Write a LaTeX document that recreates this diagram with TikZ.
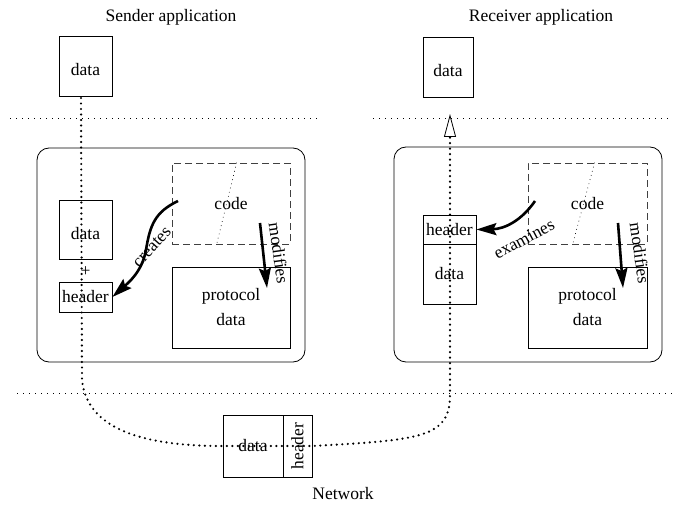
\documentclass[tikz,border=0pt]{standalone}
\usepackage{fontspec}
\setmainfont{Liberation Serif}
\usetikzlibrary{arrows.meta,calc}
\begin{document}
\begin{tikzpicture}[x=1pt,y=-1pt,
  every node/.style={font=\fontsize{17.5}{25}\selectfont, inner sep=0pt},
  box/.style={draw, line width=0.8pt},
  panel/.style={draw, line width=0.8pt, rounded corners=12pt},
  codebox/.style={draw=black!75, line width=0.8pt, dash pattern=on 7pt off 4pt},
  lowtext/.style={text height=20pt},
  flow/.style={line width=2.4pt, line cap=round, dash pattern=on 0pt off 5.5pt},
  divider/.style={line width=0.8pt, dash pattern=on 1pt off 5pt},
  hint/.style={line width=0.6pt, dash pattern=on 0.8pt off 3.5pt},
  action/.style={line width=2.6pt, -{Stealth[length=20pt,width=12pt,inset=3pt]}},
  opentip/.style={line width=0.8pt, -{Triangle[open,length=23pt,width=12pt]}}]
\useasboundingbox (0,0) rectangle (675,505);

% titles
\node (stitle) at (171,17) {Sender application};
\node (rtitle) at (541,17) {Receiver application};
\node (net) at (343,494) {Network};

% application data
\node[box, lowtext, minimum width=53, minimum height=60] (sd) at (85.5,66) {data};
\node[box, lowtext, minimum width=50, minimum height=60] (rd) at (448,67) {data};

% separators between application, protocol and network
\coordinate (l1a) at (10,118);  \coordinate (l1b) at (320,118);
\coordinate (l2a) at (373,118); \coordinate (l2b) at (672,118);
\coordinate (l3a) at (17,393);  \coordinate (l3b) at (673,393);
\draw[divider] (l1a) -- (l1b);
\draw[divider] (l2a) -- (l2b);
\draw[divider] (l3a) -- (l3b);

% sender protocol entity
\node[panel, minimum width=268, minimum height=214] (sp) at (171,255) {};
\node[codebox, minimum width=118, minimum height=81] (scode) at (231,203.5) {code};
\node[box, minimum width=118, minimum height=81, align=center] (sproto) at (231,307.5) {protocol\\data};
\node[box, lowtext, minimum width=53, minimum height=59] (sdata) at (85.5,229.5) {data};
\node (splus) at (85.5,272) {+};
\node[box, minimum width=53, minimum height=30] (shdr) at (85.5,297) {header};
\draw[hint] ($(scode.north west)+(65,0)$) -- ($(scode.south west)+(45,0)$);

% receiver protocol entity
\node[panel, minimum width=268, minimum height=215] (rp) at (528,254.5) {};
\node[codebox, minimum width=119, minimum height=81] (rcode) at (587.5,203.5) {code};
\node[box, minimum width=119, minimum height=81, align=center] (rproto) at (587.5,307.5) {protocol\\data};
\node[box, minimum width=53, minimum height=29] (rhdr) at (449.5,229.5) {header};
\node[box, minimum width=53, minimum height=60] (rdata) at (449.5,274) {data};
\draw[hint] ($(rcode.north west)+(67,0)$) -- ($(rcode.south west)+(45,0)$);

% packet on the network
\node[box, minimum width=60, minimum height=62] (pdata) at (253,446) {data};
\node[box, minimum width=29, minimum height=62] (phdr) at (297.5,446) {};
\node[rotate=90] (phdrtext) at (phdr) {header};

% actions of the protocol code
\coordinate (cs) at (178,201);
\coordinate (ce) at (535,201);
\coordinate (ms0) at (260,223); \coordinate (ms1) at (267,288);
\coordinate (mr0) at (618,223); \coordinate (mr1) at (623,288);
\draw[action] (cs) .. controls (155,212) and (150,225) .. (146,250)
  .. controls (142,272) and (128,283) .. (shdr.east);
\draw[action] (ce) .. controls (522,220) and (505,229) .. (rhdr.east);
\draw[action] (ms0) -- (ms1);
\draw[action] (mr0) -- (mr1);
\node[rotate=48] (lcreates) at (152,247) {creates};
\node[rotate=28] (lexam) at (524,239) {examines};
\node[rotate=-82] (lmods) at (279,253) {modifies};
\node[rotate=-82] (lmodr) at (640,253) {modifies};

% path of the data from sender to receiver
\coordinate (s0) at (81,98);
\coordinate (ra) at (450,137);
\coordinate (rt) at (450,114);
\draw[flow] (s0) -- (82,380) .. controls (87,428) and (140,446) .. (pdata.west)
  -- (phdr.east) .. controls (420,440) and (450,438) .. (450,395) -- (ra);
\draw[opentip] (ra) -- (rt);
\end{tikzpicture}
\end{document}
